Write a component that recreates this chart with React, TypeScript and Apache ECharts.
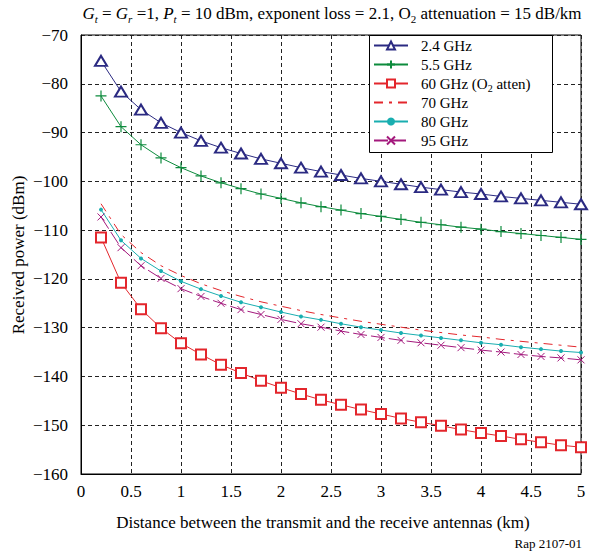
import React, { useEffect, useRef } from "react";
import * as echarts from "echarts";

const distanceKm = [0.2, 0.4, 0.6, 0.8, 1.0, 1.2, 1.4, 1.6, 1.8, 2.0, 2.2, 2.4, 2.6, 2.8, 3.0, 3.2, 3.4, 3.6, 3.8, 4.0, 4.2, 4.4, 4.6, 4.8, 5.0];

const ghz24 = [-75.3, -81.6, -85.3, -88.0, -90.0, -91.7, -93.1, -94.3, -95.4, -96.3, -97.2, -98.0, -98.7, -99.4, -100.0, -100.6, -101.2, -101.7, -102.2, -102.6, -103.1, -103.5, -103.9, -104.3, -104.7];
const ghz55 = [-82.5, -88.8, -92.5, -95.2, -97.2, -98.9, -100.3, -101.5, -102.6, -103.5, -104.4, -105.2, -105.9, -106.6, -107.2, -107.8, -108.4, -108.9, -109.4, -109.8, -110.3, -110.7, -111.1, -111.5, -111.9];
const ghz60 = [-111.5, -120.8, -126.2, -130.1, -133.2, -135.5, -137.6, -139.3, -140.9, -142.3, -143.6, -144.8, -145.8, -146.8, -147.7, -148.6, -149.4, -150.1, -150.9, -151.6, -152.2, -152.9, -153.5, -154.1, -154.5];
const ghz70 = [-104.6, -110.9, -114.6, -117.3, -119.3, -121.0, -122.4, -123.6, -124.7, -125.6, -126.5, -127.3, -128.0, -128.7, -129.3, -129.9, -130.5, -131.0, -131.5, -131.9, -132.4, -132.8, -133.2, -133.6, -134.0];
const ghz80 = [-105.8, -112.1, -115.8, -118.4, -120.5, -122.1, -123.5, -124.8, -125.8, -126.8, -127.7, -128.4, -129.2, -129.9, -130.5, -131.1, -131.6, -132.1, -132.6, -133.1, -133.5, -134.0, -134.4, -134.8, -135.1];
const ghz95 = [-107.3, -113.6, -117.3, -119.9, -122.0, -123.6, -125.0, -126.3, -127.3, -128.3, -129.2, -129.9, -130.7, -131.4, -132.0, -132.6, -133.1, -133.6, -134.1, -134.6, -135.0, -135.5, -135.9, -136.2, -136.6];

const seriesNames = ["2.4 GHz", "5.5 GHz", "60 GHz (O2 atten)", "70 GHz", "80 GHz", "95 GHz"];

const xMin = 0, xMax = 5, xStep = 0.5;
const yMin = -160, yMax = -70, yStep = 10;

const FONT = "'Liberation Serif', 'Times New Roman', serif";

const pairs = (vals: number[]) => distanceKm.map((d, i) => [d, vals[i]]);

export default function App() {
  const ref = useRef<HTMLDivElement>(null);
  useEffect(() => {
    const chart = echarts.init(ref.current!, null, { renderer: "svg" });
    const navy = "#2b2a82";
    const green = "#0d8b3d";
    const red = "#e3262c";
    const teal = "#19aeb0";
    const magenta = "#a3187c";
    chart.setOption({
      animation: false,
      backgroundColor: "#ffffff",
      grid: { left: 81, right: 25, top: 35, bottom: 80, show: true, borderColor: "#000", borderWidth: 1, backgroundColor: "transparent" },
      xAxis: {
        type: "value",
        min: xMin,
        max: xMax,
        interval: xStep,
        axisLine: { show: true, lineStyle: { color: "#000", width: 1 } },
        axisTick: { show: false },
        axisLabel: { color: "#000", fontFamily: FONT, fontSize: 17, margin: 9 },
        splitLine: { show: true, lineStyle: { color: "#222", type: [4, 3], width: 1 } },
      },
      yAxis: {
        type: "value",
        min: yMin,
        max: yMax,
        interval: yStep,
        axisLine: { show: true, lineStyle: { color: "#000", width: 1 } },
        axisTick: { show: false },
        axisLabel: { color: "#000", fontFamily: FONT, fontSize: 17, margin: 13, formatter: (v: number) => String(v).replace("-", "\u2212") },
        splitLine: { show: true, lineStyle: { color: "#222", type: [4, 3], width: 1 } },
      },
      legend: {
        show: true,
        orient: "vertical",
        left: 373,
        top: 36,
        padding: 0,
        itemWidth: 34,
        itemHeight: 10,
        itemGap: 0,
        data: [
          seriesNames[0],
          seriesNames[1],
          seriesNames[2],
          { name: seriesNames[3], itemStyle: { opacity: 0 } },
          seriesNames[4],
          seriesNames[5],
        ],
        formatter: (name: string) => (name === "60 GHz (O2 atten)" ? "60 GHz (O{s|2} atten)" : name),
        textStyle: {
          color: "#000",
          fontFamily: FONT,
          fontSize: 15,
          lineHeight: 19,
          padding: [0, 0, 0, 8],
          rich: {
            s: { fontFamily: FONT, fontSize: 10, lineHeight: 14, verticalAlign: "bottom", color: "#000" },
          },
        },
      },
      graphic: [
        { type: "rect", z: 3, shape: { x: 369.5, y: 35.5, width: 183, height: 117 }, style: { fill: "#fff", stroke: "#000", lineWidth: 1 } },
        {
          type: "text",
          x: 332,
          y: 13,
          style: {
            text: "{i|G}{si|t} = {i|G}{si|r} =1, {i|P}{si|t} = 10 dBm, exponent loss = 2.1, O{s|2} attenuation = 15 dB/km",
            align: "center",
            verticalAlign: "middle",
            fill: "#000",
            font: `17px ${FONT}`,
            lineHeight: 22,
            rich: {
              i: { fontFamily: FONT, fontSize: 17, fontStyle: "italic", lineHeight: 22 },
              si: { fontFamily: FONT, fontSize: 11, fontStyle: "italic", lineHeight: 12, verticalAlign: "bottom" },
              s: { fontFamily: FONT, fontSize: 11, lineHeight: 12, verticalAlign: "bottom" },
            },
          },
        },
        {
          type: "text",
          x: 18,
          y: 255,
          rotation: Math.PI / 2,
          style: { text: "Received power (dBm)", align: "center", verticalAlign: "middle", fill: "#000", font: `17px ${FONT}` },
        },
        {
          type: "text",
          x: 323,
          y: 522,
          style: { text: "Distance between the transmit and the receive antennas (km)", align: "center", verticalAlign: "middle", fill: "#000", font: `17px ${FONT}` },
        },
        {
          type: "text",
          x: 582,
          y: 543,
          style: { text: "Rap 2107-01", align: "right", verticalAlign: "middle", fill: "#000", font: `13px ${FONT}` },
        },
      ],
      series: [
        {
          name: seriesNames[0],
          type: "line",
          data: pairs(ghz24),
          symbol: "emptyTriangle",
          symbolSize: [12, 10],
          showAllSymbol: true,
          lineStyle: { color: navy, width: 1 },
          itemStyle: { color: navy, borderColor: navy, borderWidth: 1 },
        },
        {
          name: seriesNames[1],
          type: "line",
          data: pairs(ghz55),
          symbol: "path://M5,0L5,10M0,5L10,5",
          symbolSize: 11,
          showAllSymbol: true,
          lineStyle: { color: green, width: 1 },
          itemStyle: { color: green, borderColor: green, borderWidth: 1.2 },
        },
        {
          name: seriesNames[2],
          type: "line",
          data: pairs(ghz60),
          symbol: "emptyRect",
          symbolSize: 10,
          showAllSymbol: true,
          lineStyle: { color: red, width: 1 },
          itemStyle: { color: red, borderColor: red, borderWidth: 1 },
        },
        {
          name: seriesNames[3],
          type: "line",
          data: pairs(ghz70),
          symbol: "none",
          lineStyle: { color: red, width: 1, type: [9, 6, 3, 6] },
          itemStyle: { color: red },
        },
        {
          name: seriesNames[4],
          type: "line",
          data: pairs(ghz80),
          symbol: "circle",
          symbolSize: 4,
          showAllSymbol: true,
          lineStyle: { color: teal, width: 1 },
          itemStyle: { color: teal },
        },
        {
          name: seriesNames[5],
          type: "line",
          data: pairs(ghz95),
          symbol: "path://M0,0L10,10M0,10L10,0",
          symbolSize: 7,
          showAllSymbol: true,
          lineStyle: { color: magenta, width: 1, type: [14, 4] },
          itemStyle: { color: magenta, borderColor: magenta, borderWidth: 1 },
        },
      ],
    });
    return () => chart.dispose();
  }, []);
  return <div ref={ref} style={{ position: "fixed", left: 0, top: 0, width: 606, height: 554 }} />;
}
